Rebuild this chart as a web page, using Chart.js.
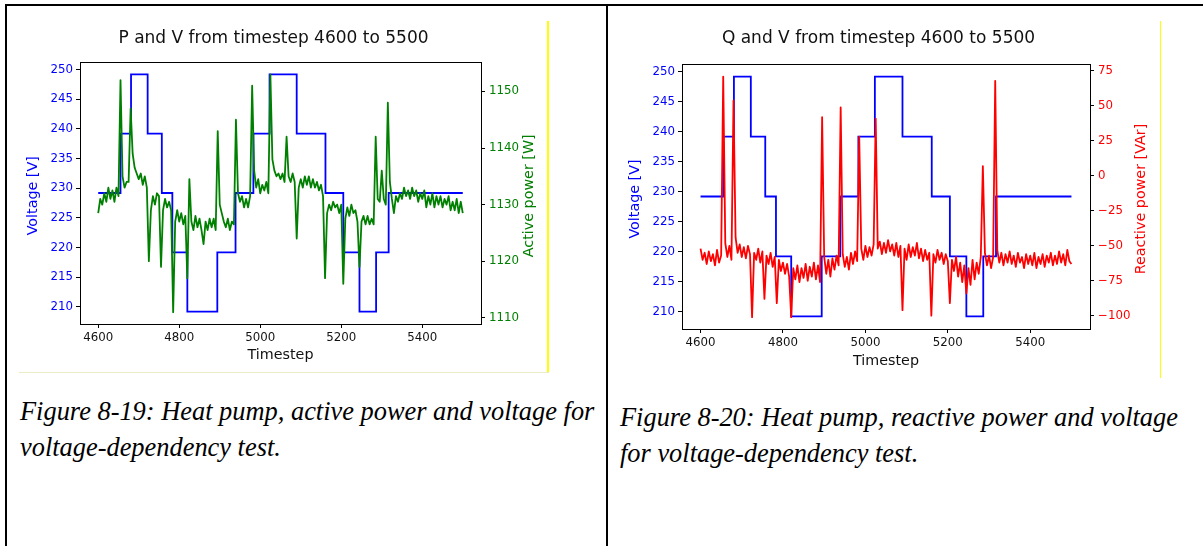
<!DOCTYPE html>
<html>
<head>
<meta charset="utf-8">
<script src="https://cdn.jsdelivr.net/npm/chart.js@4.4.1/dist/chart.umd.min.js"></script>
<style>
  html, body { margin: 0; padding: 0; background: #fff; }
  body { position: relative; width: 1203px; height: 546px; overflow: hidden; }
  canvas { position: absolute; top: 0; }
  #pv { left: 0; }
  #qv { left: 597px; }
  .rule { position: absolute; background: #000; }
  .mark { position: absolute; background: #ffff00; }
  .cap {
    position: absolute;
    font-family: "Liberation Serif", "Times New Roman", serif;
    font-style: italic;
    font-size: 26.4px;
    line-height: 36px;
    color: #000;
    white-space: nowrap;
  }
</style>
</head>
<body>
<canvas id="pv" width="548" height="372"></canvas>
<canvas id="qv" width="563" height="378"></canvas>

<div class="rule" style="left:5px;top:4px;width:1198px;height:2px"></div>
<div class="rule" style="left:5px;top:4px;width:2px;height:542px"></div>
<div class="rule" style="left:606px;top:4px;width:2px;height:542px"></div>
<div class="mark" style="left:547px;top:21px;width:2px;height:352px"></div>
<div class="mark" style="left:19px;top:372px;width:530px;height:1px;background:#ebebc4"></div>
<div class="mark" style="left:1160px;top:21px;width:1px;height:357px"></div>

<div class="cap" style="left:20px;top:393px">Figure 8-19: Heat pump, active power and voltage for<br>voltage-dependency test.</div>
<div class="cap" style="left:620px;top:399px">Figure 8-20: Heat pump, reactive power and voltage<br>for voltage-dependency test.</div>

<script>
// Sampled timesteps for the measured power series
const timestep = [
  4600,4605,4610,4615,4620,4625,4630,4635,4640,4645,4650,4655,4660,4665,4670,4675,4680,4685,4690,4695,
  4700,4705,4710,4715,4720,4725,4730,4735,4740,4745,4750,4755,4760,4765,4770,4775,4780,4785,4790,4795,
  4800,4805,4810,4815,4820,4825,4830,4835,4840,4845,4850,4855,4860,4865,4870,4875,4880,4885,4890,4895,
  4900,4905,4910,4915,4920,4925,4930,4935,4940,4945,4950,4955,4960,4965,4970,4975,4980,4985,4990,4995,
  5000,5005,5010,5015,5020,5025,5030,5035,5040,5045,5050,5055,5060,5065,5070,5075,5080,5085,5090,5095,
  5100,5105,5110,5115,5120,5125,5130,5135,5140,5145,5150,5155,5160,5165,5170,5175,5180,5185,5190,5195,
  5200,5205,5210,5215,5220,5225,5230,5235,5240,5245,5250,5255,5260,5265,5270,5275,5280,5285,5290,5295,
  5300,5305,5310,5315,5320,5325,5330,5335,5340,5345,5350,5355,5360,5365,5370,5375,5380,5385,5390,5395,
  5400,5405,5410,5415,5420,5425,5430,5435,5440,5445,5450,5455,5460,5465,5470,5475,5480,5485,5490,5495,
  5500
];

// Active power [W]
const activePower = [
  1128.5,1131,1130,1132,1130.5,1133,1131,1132.5,1130.5,1133,1131.5,1152,1135,1133,1134,1134,1147,1139,1136.5,1135.5,
  1134.5,1135.5,1133.5,1135,1133,1120,1129,1131.5,1130,1132,1131.5,1119,1129,1131,1129.5,1130.5,1129,1111,1127,1129,
  1127,1128.5,1126.5,1128,1117,1134.5,1127,1125.5,1128,1126,1127.5,1125.5,1123,1127,1125.5,1127.5,1126,1127.5,1125.5,1143,
  1130,1128.5,1127,1126,1127.5,1125.5,1127,1126.5,1145,1132,1130.5,1131.5,1129.5,1131,1129.5,1131.5,1151,1136,1133,1134.5,
  1132,1133.5,1132.5,1134,1132,1153,1138,1136,1135,1135.5,1134.5,1135.5,1134,1142,1135,1134,1135.5,1134,1124,1133,
  1134.5,1133,1135,1133.5,1135,1133,1134.5,1133,1134,1132.5,1133.5,1131.5,1117,1128.5,1130,1129,1130.5,1129.5,1130,1128.5,
  1130,1116,1127.5,1129.5,1128,1130,1128.5,1129,1127,1119,1127,1128,1126.5,1128,1126.5,1127.5,1126.5,1142,1131,1130.5,
  1136,1131,1130,1148,1134,1131,1128.5,1131.5,1130.5,1132,1131,1133,1131.5,1132.5,1131,1133,1131.5,1132.5,1130.5,1132,
  1131,1132.5,1129.5,1131.5,1130,1132,1129.5,1131.5,1130,1131.5,1129.5,1131,1130,1131.5,1129,1130.5,1129,1131,1128.5,1130.5,
  1128.5
];

// Reactive power [VAr]
const reactivePower = [
  -52,-60,-55,-63,-54,-61,-56,-64,-53,-62,-57,71,-48,-58,-50,-60,54,-44,-55,-49,
  -58,-51,-59,-50,-56,-101,-55,-60,-52,-62,-54,-88,-57,-63,-55,-65,-58,-91,-60,-68,
  -62,-70,-63,-72,-101,-66,-74,-64,-76,-66,-73,-63,-75,-65,-72,-62,-74,-64,-76,42,
  -58,-70,-60,-72,-59,-67,-57,-64,49,-56,-65,-58,-67,-55,-63,-54,-61,28,-52,-60,
  -50,-58,-51,-57,-49,41,-52,-47,-56,-48,-55,-46,-54,-49,-57,-48,-58,-50,-96,-52,
  -60,-49,-58,-51,-57,-48,-59,-52,-61,-53,-60,-55,-100,-56,-62,-53,-60,-55,-63,-56,
  -61,-91,-60,-68,-58,-72,-62,-76,-64,-84,-66,-78,-60,-74,-62,-70,-58,7,-55,-64,
  -57,-66,-58,68,-53,-62,-55,-64,-56,-62,-54,-63,-57,-65,-55,-62,-58,-66,-56,-63,
  -57,-64,-55,-66,-58,-63,-56,-65,-57,-62,-55,-64,-57,-63,-54,-62,-56,-64,-53,-61,
  -63
];

// Applied voltage steps: each level holds from its timestep until the next one
const voltageStepAt = [4600, 4655, 4681, 4722, 4757, 4783, 4820, 4894, 4939, 4983, 5023, 5090, 5161, 5205, 5245, 5286, 5317, 5500];
const voltageLevel  = [229.2, 239.2, 249.2, 239.2, 229.2, 219.2, 209.2, 219.2, 229.2, 239.2, 249.2, 239.2, 229.2, 219.2, 209.2, 219.2, 229.2, 229.2];

// Tick labels
const timestepTicks = [4600, 4800, 5000, 5200, 5400];
const voltageTicks = [210, 215, 220, 225, 230, 235, 240, 245, 250];
const activePowerTicks = [1110, 1120, 1130, 1140, 1150];
const reactivePowerTicks = [-100, -75, -50, -25, 0, 25, 50, 75];

const FAMILY = "'DejaVu Sans', sans-serif";
const BLUE = '#0000ff', GREEN = '#008000', RED = '#ff0000', INK = '#111';

Chart.defaults.font.family = FAMILY;

const pairs = (xs, ys) => xs.map((x, i) => ({ x, y: ys[i] }));
const fixedTicks = values => scale => { scale.ticks = values.map(value => ({ value })); };
const minusSign = v => (v < 0 ? '\u2212' + Math.abs(v) : String(v));

// Box around the plot plus the title and axis labels (both y labels read bottom-to-top)
const frameAndLabels = {
  id: 'frameAndLabels',
  afterDatasetsDraw(chart) {
    const { ctx, chartArea: a } = chart;
    const px = v => Math.round(v - 0.5) + 0.5;
    ctx.save();
    ctx.strokeStyle = '#000';
    ctx.lineWidth = 1;
    ctx.strokeRect(px(a.left), px(a.top), px(a.right) - px(a.left), px(a.bottom) - px(a.top));
    ctx.restore();
  },
  afterDraw(chart, args, o) {
    const { ctx, chartArea: a } = chart;
    const midY = (a.top + a.bottom) / 2 + o.labelShift;
    ctx.save();
    ctx.fillStyle = INK;
    ctx.textAlign = 'center';
    ctx.textBaseline = 'alphabetic';
    ctx.font = `17px ${FAMILY}`;
    ctx.fillText(o.title, o.titleX, o.titleY);
    ctx.font = `14.3px ${FAMILY}`;
    ctx.fillText(o.xLabel, (a.left + a.right) / 2, o.xLabelY);
    ctx.textBaseline = 'middle';
    for (const [text, color, x] of [[o.leftLabel, o.leftColor, o.leftX], [o.rightLabel, o.rightColor, o.rightX]]) {
      ctx.save();
      ctx.translate(x, midY);
      ctx.rotate(-Math.PI / 2);
      ctx.fillStyle = color;
      ctx.fillText(text, 0, 0);
      ctx.restore();
    }
    ctx.restore();
  }
};

const tickGrid = () => ({
  display: true, drawOnChartArea: false, drawTicks: true,
  tickLength: 4, color: '#000', lineWidth: 1
});

function makeChart(canvasId, cfg) {
  return new Chart(document.getElementById(canvasId), {
    type: 'line',
    data: {
      datasets: [
        {
          label: cfg.powerName,
          data: pairs(timestep, cfg.power),
          yAxisID: 'yPower',
          borderColor: cfg.powerColor,
          borderWidth: 1.8,
          borderJoinStyle: 'round',
          pointRadius: 0,
          tension: 0,
          fill: false
        },
        {
          label: 'Voltage',
          data: pairs(voltageStepAt, voltageLevel),
          yAxisID: 'yVoltage',
          borderColor: BLUE,
          borderWidth: 1.8,
          stepped: 'before',
          pointRadius: 0,
          fill: false
        }
      ]
    },
    options: {
      responsive: false,
      animation: false,
      devicePixelRatio: 1,
      events: [],
      layout: { padding: { top: cfg.areaTop, left: 0, right: 0, bottom: 0 } },
      plugins: {
        legend: { display: false },
        tooltip: { enabled: false },
        title: { display: false },
        frameAndLabels: cfg.labels
      },
      scales: {
        x: {
          type: 'linear',
          position: 'bottom',
          min: 4555,
          max: 5545,
          afterBuildTicks: fixedTicks(timestepTicks),
          afterFit: s => { s.height = cfg.xHeight; },
          grid: tickGrid(),
          border: { display: false },
          ticks: { color: INK, font: { size: 11.8 }, padding: 3, autoSkip: false, maxRotation: 0, callback: v => String(v) }
        },
        yVoltage: {
          type: 'linear',
          position: 'left',
          min: 207.1,
          max: 251.3,
          afterBuildTicks: fixedTicks(voltageTicks),
          afterFit: s => { s.width = cfg.leftWidth; },
          grid: tickGrid(),
          border: { display: false },
          ticks: { color: BLUE, font: { size: 11.8 }, padding: 3, autoSkip: false, callback: v => String(v) }
        },
        yPower: {
          type: 'linear',
          position: 'right',
          min: cfg.powerMin,
          max: cfg.powerMax,
          afterBuildTicks: fixedTicks(cfg.powerTicks),
          afterFit: s => { s.width = cfg.rightWidth; },
          grid: tickGrid(),
          border: { display: false },
          ticks: { color: cfg.powerColor, font: { size: 11.8 }, padding: 4, autoSkip: false, callback: minusSign }
        }
      }
    },
    plugins: [frameAndLabels]
  });
}

makeChart('pv', {
  powerName: 'Active power',
  power: activePower,
  powerColor: GREEN,
  powerMin: 1108.9,
  powerMax: 1155.2,
  powerTicks: activePowerTicks,
  areaTop: 62,
  xHeight: 48,
  leftWidth: 80,
  rightWidth: 67,
  labels: {
    title: 'P and V from timestep 4600 to 5500', titleX: 273.5, titleY: 43.3,
    xLabel: 'Timestep', xLabelY: 359,
    leftLabel: 'Voltage [V]', leftColor: BLUE, leftX: 33,
    rightLabel: 'Active power [W]', rightColor: GREEN, rightX: 529,
    labelShift: 2.8
  }
});

makeChart('qv', {
  powerName: 'Reactive power',
  power: reactivePower,
  powerColor: RED,
  powerMin: -109.5,
  powerMax: 80,
  powerTicks: reactivePowerTicks,
  areaTop: 64,
  xHeight: 49,
  leftWidth: 85,
  rightWidth: 70,
  labels: {
    title: 'Q and V from timestep 4600 to 5500', titleX: 281.5, titleY: 43.3,
    xLabel: 'Timestep', xLabelY: 364.5,
    leftLabel: 'Voltage [V]', leftColor: BLUE, leftX: 38.5,
    rightLabel: 'Reactive power [VAr]', rightColor: RED, rightX: 544.3,
    labelShift: 2.5
  }
});
</script>
</body>
</html>
